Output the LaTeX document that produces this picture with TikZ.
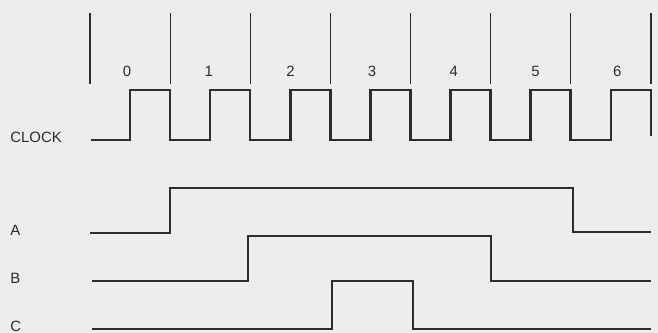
\documentclass[tikz,border=0pt]{standalone}
\usepackage{fontspec}
\setmainfont{Liberation Sans}
\definecolor{paper}{RGB}{236,238,238}
\definecolor{ink}{RGB}{45,45,45}
\usepackage{tikz}
\usetikzlibrary{positioning}

\tikzset{
  lab/.style={font=\fontsize{8.5}{9}\selectfont,text=ink,inner sep=0pt},
  wave/.style={draw=ink,line width=1.2pt,line join=miter},
  clk/.style={wave,line width=1.4pt},
  tick/.style={draw=ink,line width=0.6pt}
}

\begin{document}
\begin{tikzpicture}[x=0.02cm,y=-0.02cm]
      % page, same proportions as the scan
      \fill[paper] (0,0) rectangle (658,333);
      \useasboundingbox (0,0) rectangle (658,333);
      % clock period markers
      \foreach \k in {0,...,7}
        \draw[tick] ({90+80.14*\k},13) -- ({90+80.14*\k},84);
      % period numbers
      \foreach \i in {0,...,6}
        \node[lab] (num\i) at ({127+81.7*\i},71) {\i};
      % clock
      \draw[clk] (91,140)
        \foreach \k in {0,...,5} {
          -- ({130+80.14*\k},140) -- ({130+80.14*\k},90)
          -- ({170+80.14*\k},90) -- ({170+80.14*\k},140)
        }
        -- (611,140) -- (611,90) -- (651,90) -- (651,136);
      % signals
      \draw[wave] (90,233) -- (170,233) -- (170,188) -- (573,188)
        -- (573,232) -- (651,232);
      \draw[wave] (92,281) -- (248,281) -- (248,236) -- (491,236)
        -- (491,281) -- (651,281);
      \draw[wave] (92,329) -- (332,329) -- (332,281) -- (413,281)
        -- (413,329) -- (651,329);
      % signal names
      \node[lab,anchor=west] (clock) at (10,137) {CLOCK};
      \node[lab,anchor=west] (sigA) at (10,230) {A};
      \node[lab,anchor=west] (sigB) at (10,278) {B};
      \node[lab,anchor=west] (sigC) at (10,326) {C};
    \end{tikzpicture}
\end{document}
